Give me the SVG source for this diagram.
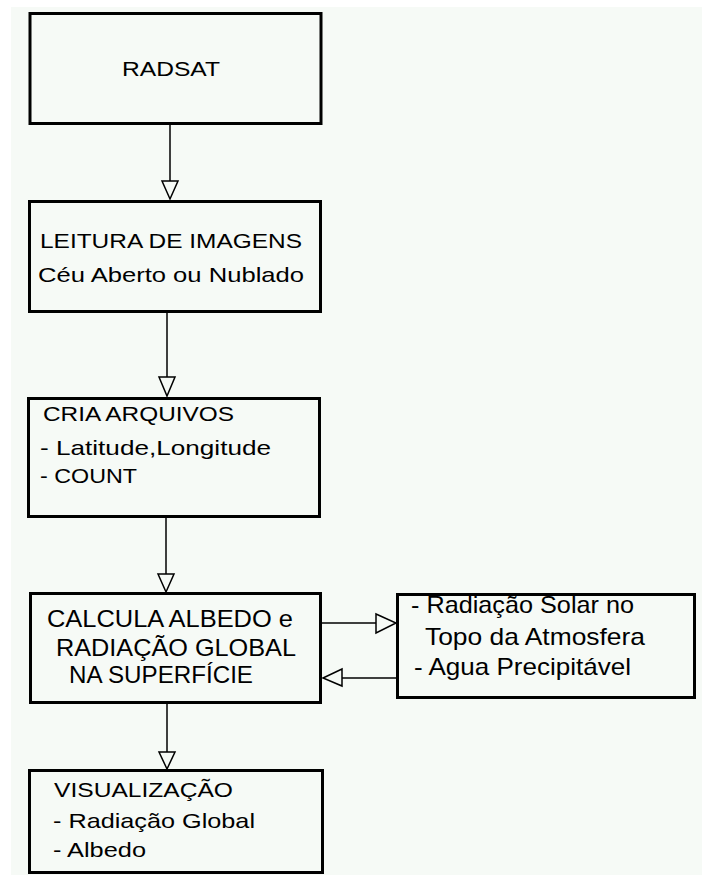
<svg xmlns="http://www.w3.org/2000/svg" width="702" height="875" viewBox="0 0 702 875">
<style>
.box{fill:none;stroke:#000;stroke-width:3}
.ln{stroke:#000;stroke-width:1.5;fill:none}
.ah{fill:#f6faf6;stroke:#000;stroke-width:1.5;stroke-linejoin:miter}
text{font-family:"Liberation Sans",Arial,sans-serif;font-size:21px;fill:#000}
.nar{font-size:24px}
</style>
<rect x="0" y="0" width="702" height="875" fill="#ffffff"/>
<rect x="11" y="7" width="691" height="868" fill="#f6faf6"/>
<g id="connectors">
<line class="ln" x1="170" y1="125" x2="170" y2="181"/>
<polygon class="ah" points="162,181 178,181 170,199"/>
<line class="ln" x1="167" y1="313" x2="167" y2="377"/>
<polygon class="ah" points="159,377 175,377 167,396"/>
<line class="ln" x1="166" y1="518" x2="166" y2="574"/>
<polygon class="ah" points="158,574 174,574 166,592"/>
<line class="ln" x1="167" y1="704" x2="167" y2="752"/>
<polygon class="ah" points="159,752 175,752 167,769"/>
<line class="ln" x1="322" y1="623" x2="376" y2="623"/>
<polygon class="ah" points="376,614 376,633 396,623"/>
<line class="ln" x1="397" y1="678" x2="342" y2="678"/>
<polygon class="ah" points="342,669 342,686 323,678"/>
</g>
<g id="radsat">
<rect class="box" x="30" y="13.5" width="291" height="110"/>
<text x="122" y="76" font-size="22" textLength="98" lengthAdjust="spacingAndGlyphs">RADSAT</text>
</g>
<g id="leitura">
<rect class="box" x="29.5" y="201.5" width="291" height="110"/>
<text x="40" y="248" textLength="262" lengthAdjust="spacingAndGlyphs">LEITURA DE IMAGENS</text>
<text x="38" y="282" textLength="266" lengthAdjust="spacingAndGlyphs">Céu Aberto ou Nublado</text>
</g>
<g id="cria">
<rect class="box" x="28.5" y="398.5" width="291" height="118"/>
<text x="43" y="421" textLength="191" lengthAdjust="spacingAndGlyphs">CRIA ARQUIVOS</text>
<text x="40" y="455" textLength="231" lengthAdjust="spacingAndGlyphs">- Latitude,Longitude</text>
<text x="40" y="483" textLength="97" lengthAdjust="spacingAndGlyphs">- COUNT</text>
</g>
<g id="calcula">
<rect class="box" x="30.5" y="593.5" width="290" height="109"/>
<text class="nar" x="47" y="627" textLength="246" lengthAdjust="spacingAndGlyphs">CALCULA ALBEDO e</text>
<text class="nar" x="56" y="656" textLength="240" lengthAdjust="spacingAndGlyphs">RADIAÇÃO GLOBAL</text>
<text class="nar" x="69" y="683" textLength="184" lengthAdjust="spacingAndGlyphs">NA SUPERFÍCIE</text>
</g>
<g id="radiacao">
<rect class="box" x="397.5" y="594.5" width="297" height="103"/>
<text class="nar" x="411" y="613" textLength="223" lengthAdjust="spacingAndGlyphs">- Radiação Solar no</text>
<text class="nar" x="425" y="645" textLength="220" lengthAdjust="spacingAndGlyphs">Topo da Atmosfera</text>
<text class="nar" x="414" y="675" textLength="217" lengthAdjust="spacingAndGlyphs">- Agua Precipitável</text>
</g>
<g id="visualizacao">
<rect class="box" x="29.5" y="770.5" width="293" height="102"/>
<text x="54" y="797" textLength="179" lengthAdjust="spacingAndGlyphs">VISUALIZAÇÃO</text>
<text x="53" y="828" textLength="202" lengthAdjust="spacingAndGlyphs">- Radiação Global</text>
<text x="53" y="857" textLength="93" lengthAdjust="spacingAndGlyphs">- Albedo</text>
</g>
</svg>
